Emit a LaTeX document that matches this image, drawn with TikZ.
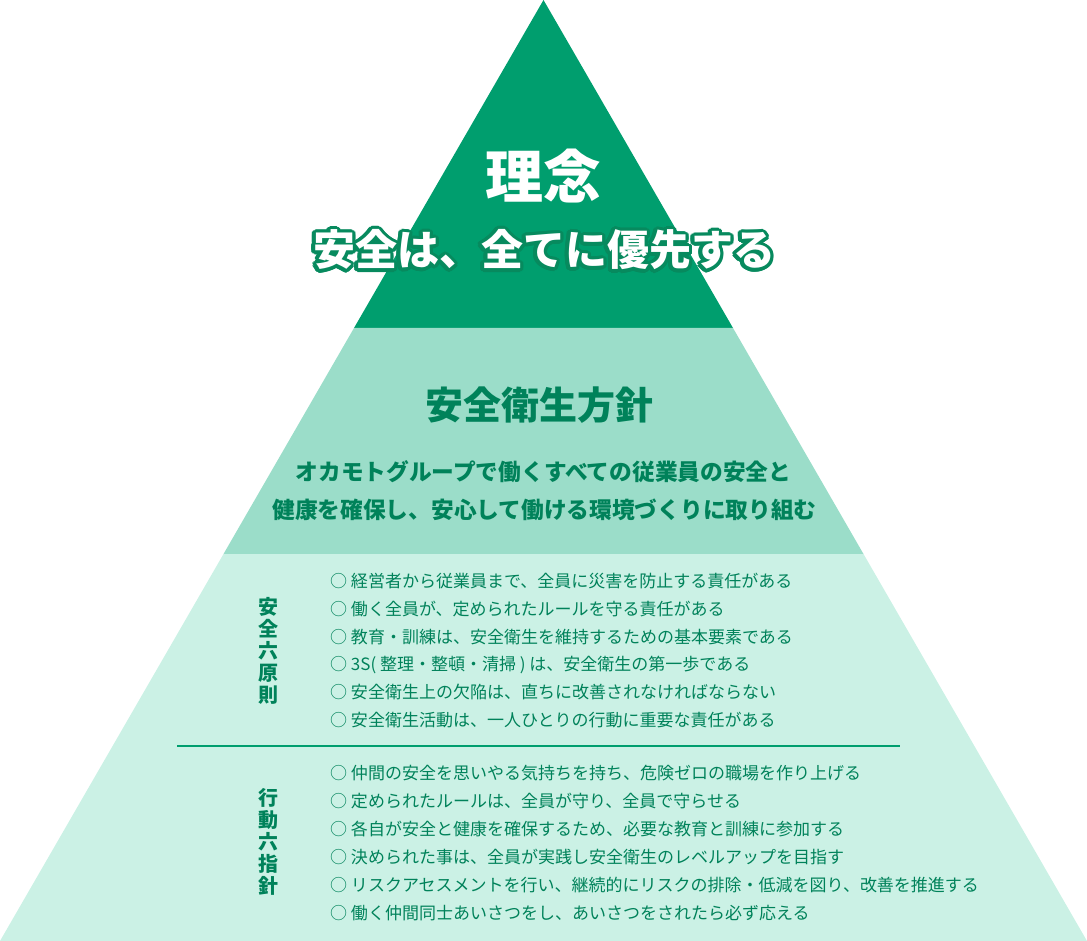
\documentclass[tikz,border=0pt]{standalone}
\usepackage{fontspec}
\setmainfont{Noto Sans CJK JP}
\usetikzlibrary{calc}
\definecolor{deepgreen}{HTML}{009E6E}
\definecolor{midgreen}{HTML}{9BDDC9}
\definecolor{palegreen}{HTML}{CBF1E5}
\definecolor{textgreen}{HTML}{00825A}
\definecolor{halogreen}{HTML}{078A5E}
\def\fsz#1{\fontsize{#1}{#1}\selectfont}

\begin{document}
\begin{tikzpicture}[x=1pt,y=-1pt,
	item/.style={anchor=west, inner sep=0pt, text=textgreen, font=\fsz{17}},
	sidelabel/.style={align=center, inner sep=0pt, text=textgreen, font=\fontsize{20}{22}\selectfont\bfseries},
	policy/.style={inner sep=0pt, text=textgreen, font=\fsz{22.7}\bfseries}]
	%%%%% START %%%%%
	\useasboundingbox (0,0) rectangle (1087,941);
	
	% bands of the pyramid
	\fill[deepgreen] (543.5,0) -- (733,328) -- (354,328) -- cycle;
	\fill[midgreen] (354,328) -- (733,328) -- (863.5,554) -- (223.5,554) -- cycle;
	\fill[palegreen] (223.5,554) -- (863.5,554) -- (1087,941) -- (0,941) -- cycle;
	
	% top
	\node[inner sep=0pt, text=white, font=\fsz{58}\bfseries] (idea) at (543.5,176) {理念};
	\foreach \a in {0,20,...,340}
		\node[inner sep=0pt, text=halogreen, font=\fsz{42}\bfseries] (halo-\a) at ($(544,250)+(\a:3.4)$) {安全は、全てに優先する};
	\node[inner sep=0pt, text=white, font=\fsz{42}\bfseries] (motto) at (544,250) {安全は、全てに優先する};
	
	% middle
	\node[inner sep=0pt, text=textgreen, font=\fsz{38}\bfseries] (policyhead) at (539,405) {安全衛生方針};
	\node[policy] (policy1) at (543.5,472) {オカモトグループで働くすべての従業員の安全と};
	\node[policy] (policy2) at (544.5,510) {健康を確保し、安心して働ける環境づくりに取り組む};
	
	% six principles
	\node[sidelabel] (principles) at (268,651) {安\\全\\六\\原\\則};
	\node[item] (pr1) at (330,581) {○ 経営者から従業員まで、全員に災害を防止する責任がある};
	\node[item] (pr2) at (330,609) {○ 働く全員が、定められたルールを守る責任がある};
	\node[item] (pr3) at (330,637) {○ 教育・訓練は、安全衛生を維持するための基本要素である};
	\node[item] (pr4) at (330,665) {○ 3S( 整理・整頓・清掃 ) は、安全衛生の第一歩である};
	\node[item] (pr5) at (330,692) {○ 安全衛生上の欠陥は、直ちに改善されなければならない};
	\node[item] (pr6) at (330,720) {○ 安全衛生活動は、一人ひとりの行動に重要な責任がある};
	
	\draw[deepgreen, line width=1.3pt] (177,746) -- (900,746);
	
	% six guidelines
	\node[sidelabel] (guides) at (268,842) {行\\動\\六\\指\\針};
	\node[item] (gd1) at (330,773) {○ 仲間の安全を思いやる気持ちを持ち、危険ゼロの職場を作り上げる};
	\node[item] (gd2) at (330,801) {○ 定められたルールは、全員が守り、全員で守らせる};
	\node[item] (gd3) at (330,829) {○ 各自が安全と健康を確保するため、必要な教育と訓練に参加する};
	\node[item] (gd4) at (330,857) {○ 決められた事は、全員が実践し安全衛生のレベルアップを目指す};
	\node[item] (gd5) at (330,885) {○ リスクアセスメントを行い、継続的にリスクの排除・低減を図り、改善を推進する};
	\node[item] (gd6) at (330,913) {○ 働く仲間同士あいさつをし、あいさつをされたら必ず応える};
	
	%%%%% END %%%%%
\end{tikzpicture}
\end{document}
